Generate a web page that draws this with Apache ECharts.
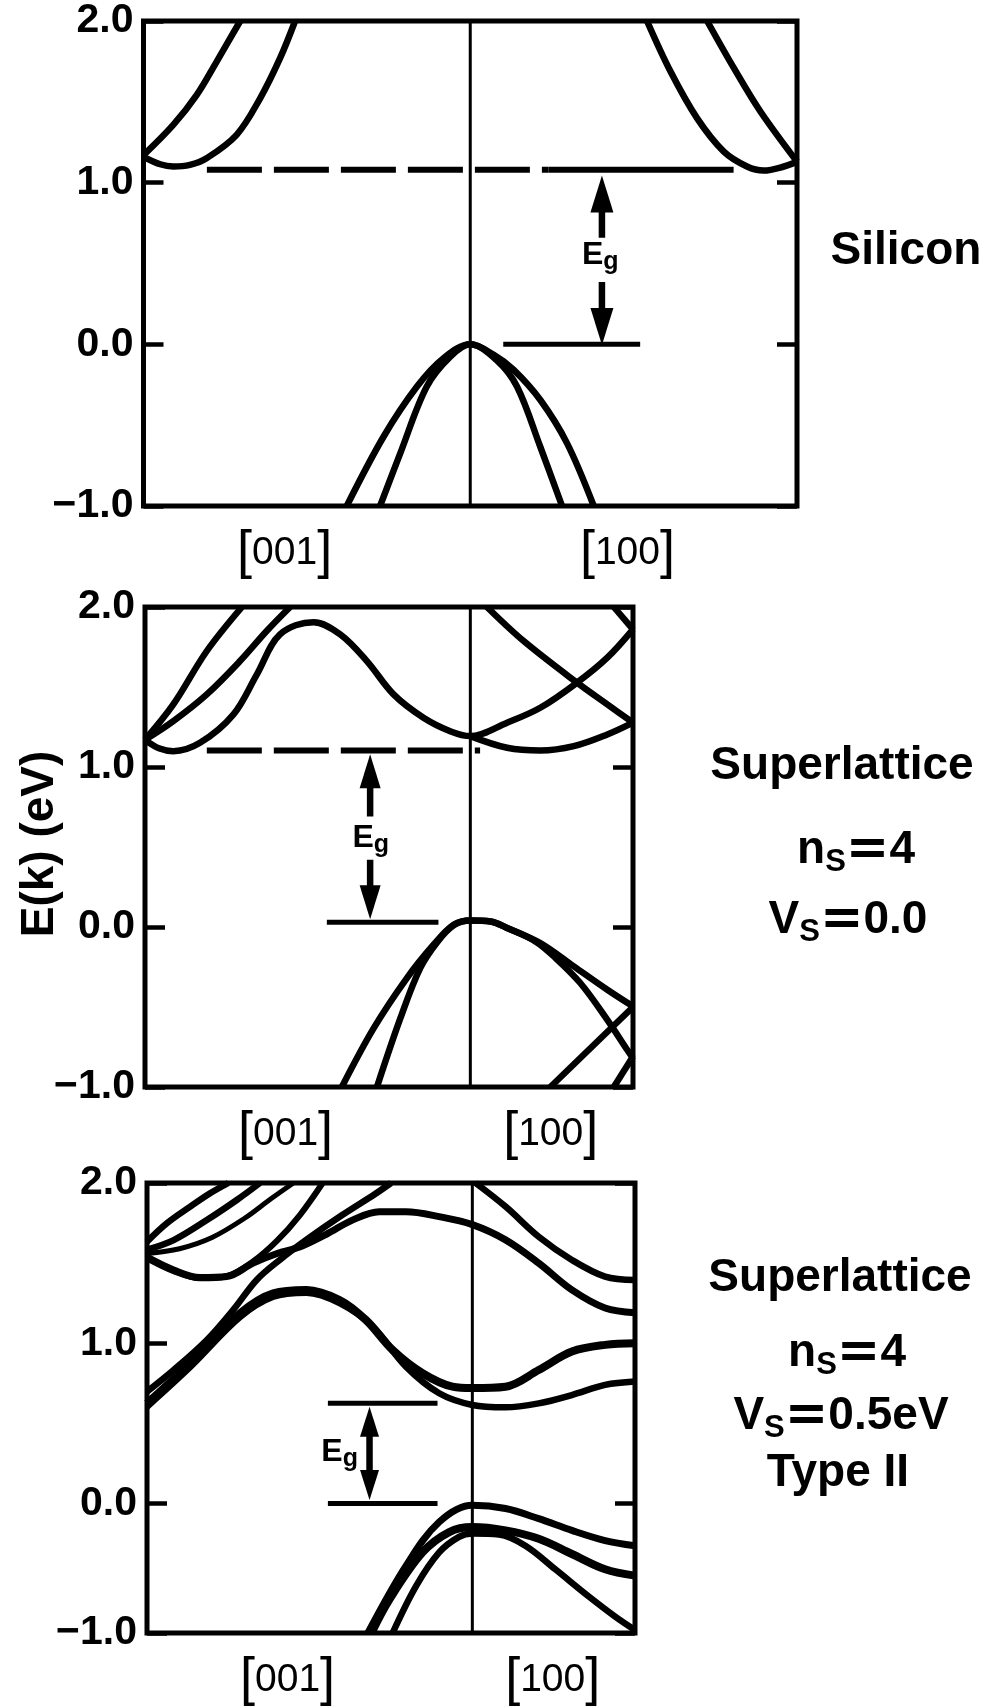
<!DOCTYPE html>
<html>
<head>
<meta charset="utf-8">
<title>E(k) band structure</title>
<script src="https://cdn.jsdelivr.net/npm/echarts@6.0.0/dist/echarts.min.js"></script>
<style>
  html, body { margin: 0; padding: 0; background: #fff; }
  #chart { width: 982px; height: 1708px; }
</style>
</head>
<body>
<div id="chart"></div>
<script>
// axis labels
var energyTicks = [-1, 0, 1, 2];
var dirNames = ['001', '100'];
var siDirAt = [-0.568, 0.481];
var slDirAt = [-0.568, 0.247];

// Silicon: k runs from the [001] zone edge (-1) through Gamma (0) to the [100] edge (+1)
var siCondL1 = [[-1, 1.17], [-0.909, 1.357], [-0.837, 1.543], [-0.776, 1.749], [-0.704, 2.0]];
var siCondL2 = [[-1, 1.16], [-0.949, 1.114], [-0.909, 1.10], [-0.858, 1.11], [-0.807, 1.151], [-0.715, 1.296], [-0.643, 1.522], [-0.582, 1.77], [-0.536, 2.0]];
var siCondR1 = [[0.725, 2.0], [0.807, 1.708], [0.888, 1.44], [1, 1.13]];
var siCondR2 = [[0.541, 2.0], [0.613, 1.687], [0.694, 1.399], [0.776, 1.192], [0.847, 1.10], [0.898, 1.075], [0.96, 1.10], [1, 1.13]];
var siValOuter = [[-0.378, -1], [-0.265, -0.57], [-0.163, -0.261], [-0.082, -0.086], [0, 0], [0.072, -0.065], [0.133, -0.158], [0.214, -0.343], [0.296, -0.611], [0.378, -1]];
var siValInner = [[-0.276, -1], [-0.214, -0.673], [-0.133, -0.261], [-0.061, -0.076], [0, 0], [0.082, -0.1], [0.143, -0.261], [0.214, -0.632], [0.281, -1]];
var siGapDash = [[-0.806, 1.08], [0.24, 1.08]];
var siGapSolid = [[0.24, 1.08], [0.806, 1.08]];
var siVbm = [[0.101, 0], [0.52, 0]];
var siShaftUp = [[0.403, 0.66], [0.403, 0.93]];
var siShaftDown = [[0.403, 0.386], [0.403, 0.11]];
var siHeadUp = [[0.403, 0.93]];
var siHeadDown = [[0.403, 0.11]];
var siEgAt = [[0.398, 0.55]];
var siMid = [[0, -1], [0, 2]];

// Superlattice n=4, V=0.0
var slCondA = [[-1, 1.17], [-0.913, 1.391], [-0.81, 1.725], [-0.702, 2.0]];
var slCondB = [[-1, 1.17], [-0.913, 1.287], [-0.81, 1.454], [-0.708, 1.662], [-0.626, 1.85], [-0.554, 2.0]];
var slCondC = [[-1, 1.17], [-0.955, 1.115], [-0.913, 1.099], [-0.831, 1.151], [-0.728, 1.329], [-0.656, 1.579], [-0.585, 1.829], [-0.482, 1.905], [-0.4, 1.829], [-0.318, 1.662], [-0.236, 1.454], [-0.144, 1.308], [-0.062, 1.224], [0, 1.193], [0.113, 1.277], [0.215, 1.37], [0.328, 1.527], [0.421, 1.683], [0.5, 1.86]];
var slCondD = [[0.051, 2.0], [0.164, 1.787], [0.328, 1.527], [0.421, 1.391], [0.5, 1.277]];
var slCondE = [[0, 1.193], [0.113, 1.12], [0.215, 1.103], [0.318, 1.13], [0.421, 1.203], [0.5, 1.277]];
var slCondF = [[0.441, 2.0], [0.5, 1.86]];
var slValA = [[-0.395, -1], [-0.297, -0.632], [-0.195, -0.319], [-0.113, -0.111], [-0.051, 0.014], [0, 0.04], [0.062, 0.035], [0.113, -0.006], [0.215, -0.1], [0.318, -0.246], [0.421, -0.392], [0.5, -0.496]];
var slValB = [[-0.287, -1], [-0.215, -0.57], [-0.154, -0.257], [-0.1, -0.09], [-0.05, 0.012], [0, 0.04], [0.062, 0.035], [0.113, -0.006], [0.2, -0.09], [0.26, -0.19], [0.338, -0.35], [0.421, -0.58], [0.482, -0.767], [0.5, -0.82]];
var slValC = [[0.246, -1], [0.5, -0.5]];
var slValD = [[0.441, -1], [0.5, -0.81]];
var slGapDash = [[-0.81, 1.103], [0.03, 1.103]];
var slVbm = [[-0.441, 0.03], [-0.098, 0.03]];
var slShaftUp = [[-0.308, 0.691], [-0.308, 0.974]];
var slShaftDown = [[-0.308, 0.42], [-0.308, 0.155]];
var slHeadUp = [[-0.308, 0.974]];
var slHeadDown = [[-0.308, 0.155]];
var slEgAt = [[-0.306, 0.557]];
var slMid = [[0, -1], [0, 2]];

// Superlattice n=4, V=0.5 eV, type II (upper part E >= 0)
var tlC1 = [[-1, 1.634], [-0.939, 1.749], [-0.867, 1.853], [-0.806, 1.936], [-0.75, 2.0]];
var tlC2 = [[-1, 1.584], [-0.918, 1.644], [-0.816, 1.769], [-0.724, 1.894], [-0.653, 2.0]];
var tlC3 = [[-1, 1.56], [-0.9, 1.59], [-0.8, 1.66], [-0.7, 1.78], [-0.62, 1.9], [-0.55, 2.0]];
var tlU1 = [[-1, 1.537], [-0.918, 1.457], [-0.837, 1.41], [-0.755, 1.416], [-0.674, 1.5], [-0.6, 1.56], [-0.531, 1.6], [-0.449, 1.68], [-0.367, 1.77], [-0.286, 1.82], [-0.204, 1.82], [-0.102, 1.79], [0, 1.74], [0.102, 1.645], [0.204, 1.5], [0.306, 1.333], [0.408, 1.22], [0.5, 1.19]];
var tlU2 = [[-1, 1.53], [-0.918, 1.45], [-0.837, 1.405], [-0.755, 1.418], [-0.674, 1.51], [-0.6, 1.64], [-0.53, 1.8], [-0.46, 2.0]];
var tlL2 = [[-1, 0.698], [-0.918, 0.833], [-0.816, 1.02], [-0.735, 1.208], [-0.663, 1.395], [-0.592, 1.52], [-0.5, 1.66], [-0.4, 1.8], [-0.3, 1.93], [-0.25, 2.0]];
var tlR1 = [[0.01, 2.0], [0.102, 1.853], [0.204, 1.665], [0.306, 1.52], [0.408, 1.416], [0.5, 1.395]];
var tlL1 = [[-1, 0.625], [-0.867, 0.875], [-0.714, 1.187], [-0.612, 1.312], [-0.51, 1.333], [-0.408, 1.27], [-0.327, 1.145], [-0.245, 0.958], [-0.153, 0.813], [-0.061, 0.729], [0, 0.72], [0.102, 0.729], [0.204, 0.833], [0.306, 0.948], [0.408, 0.99], [0.5, 1.0]];
var tlL3 = [[-1, 0.604], [-0.867, 0.852], [-0.714, 1.163], [-0.612, 1.29], [-0.51, 1.315], [-0.408, 1.25], [-0.306, 1.104], [-0.204, 0.854], [-0.102, 0.688], [0, 0.615], [0.102, 0.6], [0.204, 0.625], [0.306, 0.677], [0.408, 0.74], [0.5, 0.761]];
var tlGapTop = [[-0.444, 0.625], [-0.107, 0.625]];
var tlVbm = [[-0.444, 0], [-0.107, 0]];
var tlShaft = [[-0.316, 0.115], [-0.316, 0.51]];
var tlHeadUp = [[-0.316, 0.51]];
var tlHeadDown = [[-0.316, 0.115]];
var tlEgAt = [[-0.408, 0.32]];
var tlMidTop = [[0, 0], [0, 2]];
// lower part (E <= 0), drawn on its own, more compressed scale as in the figure
var tlVa = [[-0.321, -1], [-0.204, -0.482], [-0.102, -0.143], [0, -0.013], [0.102, -0.039], [0.204, -0.117], [0.306, -0.208], [0.408, -0.286], [0.5, -0.326]];
var tlVb = [[-0.31, -1], [-0.255, -0.742], [-0.153, -0.378], [-0.071, -0.221], [0, -0.182], [0.102, -0.208], [0.204, -0.273], [0.306, -0.39], [0.408, -0.508], [0.5, -0.557]];
var tlVc = [[-0.245, -1], [-0.173, -0.638], [-0.102, -0.378], [-0.041, -0.258], [0, -0.232], [0.082, -0.24], [0.163, -0.326], [0.255, -0.508], [0.357, -0.716], [0.439, -0.873], [0.5, -0.977]];
var tlMidBottom = [[0, -1], [0, 0]];

var FONT = '"Liberation Sans", Arial, Helvetica, sans-serif';
// [xAxisIndex, yAxisIndex] for each plotting grid
var AX = [[0, 0], [1, 2], [2, 4], [3, 6]];
var LW = 6.5;

function fmtEnergy(v) {
    return (v < 0 ? '\u2212' : '') + Math.abs(v).toFixed(1);
}

function band(data, g, w) {
    return {
        type: 'line', xAxisIndex: AX[g][0], yAxisIndex: AX[g][1],
        data: data, symbol: 'none', smooth: 0.35, silent: true, z: 3,
        lineStyle: { color: '#000', width: w || LW }
    };
}

function rule(data, g, w, dash) {
    return {
        type: 'line', xAxisIndex: AX[g][0], yAxisIndex: AX[g][1],
        data: data, symbol: 'none', smooth: false, silent: true, z: 2,
        lineStyle: { color: '#000', width: w, type: dash || 'solid' }
    };
}

function head(data, g, rot, size) {
    return {
        type: 'scatter', xAxisIndex: AX[g][0], yAxisIndex: AX[g][1],
        data: data, symbol: 'triangle', symbolSize: size, symbolRotate: rot,
        silent: true, z: 4, itemStyle: { color: '#000', opacity: 1 }
    };
}

function egLabel(data, g) {
    return {
        type: 'scatter', xAxisIndex: AX[g][0], yAxisIndex: AX[g][1],
        data: data, symbolSize: 1, silent: true, z: 5,
        itemStyle: { color: 'rgba(255,255,255,0)', opacity: 1 },
        label: {
            show: true, position: 'inside', formatter: '{e|E}{g|g}',
            color: '#000', opacity: 1, textBorderWidth: 0,
            rich: {
                e: { fontFamily: FONT, fontWeight: 'bold', fontSize: 32, color: '#000', textBorderWidth: 0 },
                g: { fontFamily: FONT, fontWeight: 'bold', fontSize: 25, color: '#000', textBorderWidth: 0, padding: [14, 0, 0, 0] }
            }
        }
    };
}

function xAx(g, max, labelsAt) {
    return {
        type: 'value', gridIndex: g, min: -1, max: max,
        axisLine: { show: false, onZero: false }, axisTick: { show: false }, splitLine: { show: false },
        axisLabel: {
            show: !!labelsAt, customValues: labelsAt || [], margin: 20,
            formatter: function (v) {
                return '{b|[}{d|' + (v < 0 ? dirNames[0] : dirNames[1]) + '}{b|]}';
            },
            rich: {
                b: { fontFamily: FONT, fontSize: 54, color: '#000' },
                d: { fontFamily: FONT, fontSize: 39, color: '#000' }
            }
        }
    };
}

function yAx(g, min, max, pos, labels, hideZero) {
    return {
        type: 'value', gridIndex: g, position: pos, min: min, max: max, interval: 1,
        axisLine: { show: false, onZero: false }, splitLine: { show: false },
        axisTick: { show: true, inside: true, length: 20, lineStyle: { color: '#000', width: 4.5 } },
        axisLabel: {
            show: labels, margin: 10, showMinLabel: true, showMaxLabel: true,
            fontFamily: FONT, fontWeight: 'bold', fontSize: 41, color: '#000',
            formatter: function (v) { return (hideZero && v === 0) ? '' : fmtEnergy(v); }
        }
    };
}

var gridFrame = { show: true, borderColor: '#000', borderWidth: 5, backgroundColor: 'transparent', outerBoundsMode: 'none' };

var option = {
    animation: false,
    backgroundColor: '#fff',
    grid: [
        Object.assign({ left: 143.5, top: 21, width: 653.5, height: 485 }, gridFrame),
        Object.assign({ left: 145, top: 607, width: 488, height: 480 }, gridFrame),
        { left: 147, top: 1183, width: 488, height: 320.5, show: false, outerBoundsMode: 'none' },
        { left: 147, top: 1503.5, width: 488, height: 129.5, show: false, outerBoundsMode: 'none' },
        Object.assign({ left: 147, top: 1183, width: 488, height: 450 }, gridFrame)
    ],
    xAxis: [
        xAx(0, 1, siDirAt),
        xAx(1, 0.5, slDirAt),
        xAx(2, 0.5, null),
        xAx(3, 0.5, slDirAt),
        { type: 'value', gridIndex: 4, show: false, min: 0, max: 1 }
    ],
    yAxis: [
        yAx(0, -1, 2, 'left', true, false),
        yAx(0, -1, 2, 'right', false, false),
        yAx(1, -1, 2, 'left', true, false),
        yAx(1, -1, 2, 'right', false, false),
        yAx(2, 0, 2, 'left', true, false),
        yAx(2, 0, 2, 'right', false, false),
        yAx(3, -1, 0, 'left', true, true),
        yAx(3, -1, 0, 'right', false, false),
        { type: 'value', gridIndex: 4, show: false, min: 0, max: 1 }
    ],
    graphic: [
        {
            type: 'text', x: 40, y: 844, rotation: Math.PI / 2,
            style: { text: 'E(k) (eV)', font: 'bold 46px ' + FONT, fill: '#000', align: 'center', verticalAlign: 'middle' }
        },
        { type: 'text', x: 906, y: 251, style: { text: 'Silicon', font: 'bold 46px ' + FONT, fill: '#000', align: 'center', verticalAlign: 'middle' } },
        { type: 'text', x: 842, y: 766, style: { text: 'Superlattice', font: 'bold 46px ' + FONT, fill: '#000', align: 'center', verticalAlign: 'middle' } },
        { type: 'text', x: 856, y: 850, style: { text: '{m|n}{s|S}{q|=}{m|4}', align: 'center', verticalAlign: 'middle' } },
        { type: 'text', x: 848, y: 920, style: { text: '{m|V}{s|S}{q|=}{m|0.0}', align: 'center', verticalAlign: 'middle' } },
        { type: 'text', x: 840, y: 1278, style: { text: 'Superlattice', font: 'bold 46px ' + FONT, fill: '#000', align: 'center', verticalAlign: 'middle' } },
        { type: 'text', x: 847, y: 1353, style: { text: '{m|n}{s|S}{q|=}{m|4}', align: 'center', verticalAlign: 'middle' } },
        { type: 'text', x: 841, y: 1416, style: { text: '{m|V}{s|S}{q|=}{m|0.5eV}', align: 'center', verticalAlign: 'middle' } },
        { type: 'text', x: 838, y: 1473, style: { text: 'Type II', font: 'bold 46px ' + FONT, fill: '#000', align: 'center', verticalAlign: 'middle' } }
    ],
    series: [
        // Silicon
        rule(siMid, 0, 3),
        band(siCondL1, 0), band(siCondL2, 0), band(siCondR1, 0), band(siCondR2, 0),
        band(siValOuter, 0), band(siValInner, 0),
        rule(siGapDash, 0, 6, [55, 12]), rule(siGapSolid, 0, 6),
        rule(siVbm, 0, 5),
        rule(siShaftUp, 0, 6.5), rule(siShaftDown, 0, 6.5),
        head(siHeadUp, 0, 0, [23, 37]), head(siHeadDown, 0, 180, [23, 37]),
        egLabel(siEgAt, 0),
        // Superlattice, V = 0
        rule(slMid, 1, 3),
        band(slCondA, 1), band(slCondB, 1), band(slCondC, 1), band(slCondD, 1), band(slCondE, 1), band(slCondF, 1),
        band(slValA, 1), band(slValB, 1), band(slValC, 1), band(slValD, 1),
        rule(slGapDash, 1, 6, [55, 12]),
        rule(slVbm, 1, 5),
        rule(slShaftUp, 1, 6.5), rule(slShaftDown, 1, 6.5),
        head(slHeadUp, 1, 0, [21, 34]), head(slHeadDown, 1, 180, [21, 34]),
        egLabel(slEgAt, 1),
        // Superlattice, V = 0.5 eV
        rule(tlMidTop, 2, 3), rule(tlMidBottom, 3, 3),
        band(tlC1, 2), band(tlC2, 2), band(tlC3, 2, 5), band(tlU1, 2, 7), band(tlU2, 2, 6), band(tlL2, 2), band(tlR1, 2),
        band(tlL1, 2, 8), band(tlL3, 2),
        rule(tlGapTop, 2, 5), rule(tlVbm, 2, 5),
        rule(tlShaft, 2, 6.5),
        head(tlHeadUp, 2, 0, [19, 30]), head(tlHeadDown, 2, 180, [19, 30]),
        egLabel(tlEgAt, 2),
        band(tlVa, 3, 7), band(tlVb, 3, 8), band(tlVc, 3)
    ]
};

// shared rich styles for the parameter lines
var paramRich = {
    m: { fontFamily: FONT, fontWeight: 'bold', fontSize: 46, fill: '#000' },
    s: { fontFamily: FONT, fontWeight: 'bold', fontSize: 31, fill: '#000', padding: [24, 0, 0, 0] },
    q: { fontFamily: '"DejaVu Sans", ' + FONT, fontWeight: 'bold', fontSize: 52, fill: '#000' }
};
option.graphic.forEach(function (el) {
    if (el.style.text.indexOf('{') === 0) {
        el.style.rich = paramRich;
    }
});

var chart = echarts.init(document.getElementById('chart'), null, { renderer: 'canvas' });
chart.setOption(option);
</script>
</body>
</html>
